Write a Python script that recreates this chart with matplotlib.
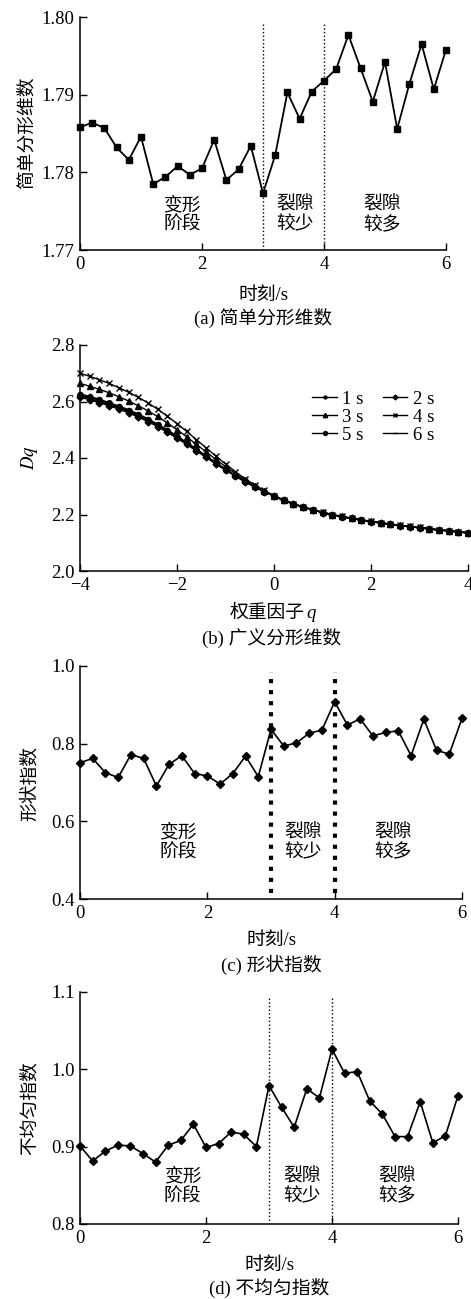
import numpy as np
import matplotlib
matplotlib.use('Agg')
import matplotlib.pyplot as plt

plt.rcParams['font.family'] = ['Liberation Serif', 'Noto Sans CJK SC']
plt.rcParams['mathtext.fontset'] = 'stix'
plt.rcParams['axes.unicode_minus'] = True

W, H = 471, 1299

# time axis (s) shared by panels a, c, d
t = np.linspace(0, 6, 31)

simple_fd = [1.7858, 1.7864, 1.7857, 1.7832, 1.7816, 1.7846, 1.7785, 1.7794,
             1.7808, 1.7797, 1.7805, 1.7842, 1.7790, 1.7804, 1.7834, 1.7773,
             1.7822, 1.7903, 1.7869, 1.7904, 1.7918, 1.7933, 1.7977, 1.7934,
             1.7891, 1.7942, 1.7856, 1.7914, 1.7965, 1.7907, 1.7958]

shape_idx = [0.751, 0.762, 0.725, 0.713, 0.772, 0.762, 0.691, 0.747, 0.769,
             0.723, 0.717, 0.696, 0.723, 0.768, 0.715, 0.837, 0.794, 0.802,
             0.827, 0.835, 0.908, 0.848, 0.864, 0.820, 0.829, 0.833, 0.769,
             0.863, 0.783, 0.773, 0.865]

uneven_idx = [0.901, 0.8815, 0.894, 0.902, 0.901, 0.891, 0.880, 0.902, 0.908,
              0.929, 0.899, 0.904, 0.919, 0.916, 0.900, 0.979, 0.951, 0.925,
              0.975, 0.963, 1.026, 0.995, 0.997, 0.959, 0.942, 0.913, 0.913,
              0.958, 0.905, 0.914, 0.966]

# weight factor q and generalized dimension Dq per moment
q = np.linspace(-4, 4, 41)
dq_pos = [2.250, 2.237, 2.226, 2.216, 2.207, 2.199, 2.192, 2.186, 2.180, 2.175,
          2.170, 2.165, 2.161, 2.157, 2.153, 2.149, 2.145, 2.142, 2.138, 2.135]
dq_1s = [2.627, 2.618, 2.608, 2.596, 2.584, 2.571, 2.556, 2.539, 2.520, 2.500,
         2.478, 2.455, 2.432, 2.408, 2.384, 2.361, 2.339, 2.318, 2.299, 2.282,
         2.265] + dq_pos
dq_2s = [2.615, 2.606, 2.596, 2.585, 2.573, 2.560, 2.545, 2.529, 2.511, 2.491,
         2.470, 2.448, 2.425, 2.402, 2.379, 2.357, 2.336, 2.316, 2.298, 2.281,
         2.265] + dq_pos
dq_3s = [2.664, 2.654, 2.643, 2.631, 2.617, 2.602, 2.585, 2.567, 2.547, 2.524,
         2.500, 2.475, 2.448, 2.422, 2.395, 2.370, 2.345, 2.322, 2.302, 2.283,
         2.266, 2.251, 2.238, 2.227, 2.217, 2.208, 2.200, 2.193, 2.187, 2.181,
         2.176, 2.171, 2.166, 2.162, 2.158, 2.154, 2.150, 2.146, 2.143, 2.139,
         2.136]
dq_4s = [2.700, 2.689, 2.677, 2.664, 2.649, 2.633, 2.615, 2.595, 2.573, 2.548,
         2.522, 2.494, 2.465, 2.436, 2.407, 2.379, 2.352, 2.327, 2.305, 2.285,
         2.267, 2.251, 2.238, 2.227, 2.217, 2.208, 2.200, 2.193, 2.187, 2.181,
         2.176, 2.171, 2.166, 2.162, 2.158, 2.154, 2.150, 2.146, 2.143, 2.139,
         2.136]
dq_5s = [2.623, 2.614, 2.604, 2.593, 2.581, 2.567, 2.552, 2.535, 2.517, 2.496,
         2.475, 2.452, 2.429, 2.406, 2.382, 2.359, 2.338, 2.317, 2.299, 2.281,
         2.265] + dq_pos
dq_6s = [2.619, 2.610, 2.600, 2.589, 2.577, 2.564, 2.548, 2.532, 2.514, 2.494,
         2.472, 2.450, 2.427, 2.404, 2.380, 2.358, 2.337, 2.316, 2.298, 2.281,
         2.265] + dq_pos

stages = ['变形\n阶段', '裂隙\n较少', '裂隙\n较多']

TICK_FS = 13.5
CJK_FS = 13.5


def px_axes(left, top, right, bottom):
    return [left / W, 1 - bottom / H, (right - left) / W, (bottom - top) / H]


def style_axes(ax):
    for side in ('top', 'right'):
        ax.spines[side].set_visible(False)
    for side in ('left', 'bottom'):
        ax.spines[side].set_linewidth(1.1)
    ax.tick_params(direction='in', length=5, width=1.0, labelsize=TICK_FS, pad=4)


def fig_text(x, y, s, **kw):
    fig.text(x / W, 1 - y / H, s, ha='center', va='center', **kw)


fig = plt.figure(figsize=(W / 100, H / 100), dpi=100)

# (a) simple fractal dimension
ax = fig.add_axes(px_axes(80, 17, 446, 250))
style_axes(ax)
ax.plot(t, simple_fd, color='black', lw=1.3, marker='s', ms=5, clip_on=False)
for x in (3, 4):
    ax.axvline(x, ymin=0, ymax=0.975, color='black', ls=':', lw=1.0)
ax.set_xlim(0, 6)
ax.set_ylim(1.77, 1.80)
ax.set_xticks([0, 2, 4, 6])
ax.set_yticks([1.77, 1.78, 1.79, 1.80])
ax.set_yticklabels(['1.77', '1.78', '1.79', '1.80'])
for x, s in zip((1.67, 3.52, 4.95), stages):
    ax.text(x, 1.7745, s, ha='center', va='center', fontsize=CJK_FS, linespacing=1.2)
fig_text(27, 133, '简单分形维数', rotation=90, fontsize=CJK_FS)
fig_text(263, 295, '时刻/s', fontsize=CJK_FS)
fig_text(263, 318, '(a) 简单分形维数', fontsize=CJK_FS)

# (b) generalized fractal dimension
ax = fig.add_axes(px_axes(80, 345, 468, 571))
style_axes(ax)
series = [('1 s', dq_1s, 'o', 3.0), ('2 s', dq_2s, 'D', 3.5),
          ('3 s', dq_3s, '^', 4.5), ('4 s', dq_4s, 'x', 4.5),
          ('5 s', dq_5s, 'o', 4.0), ('6 s', dq_6s, '_', 5.0)]
handles = {}
for name, vals, mk, ms in series:
    line, = ax.plot(q, vals, color='black', lw=1.0, marker=mk, ms=ms,
                    mew=1.0, clip_on=False)
    handles[name] = line
order = ['1 s', '3 s', '5 s', '2 s', '4 s', '6 s']
ax.legend([handles[k] for k in order], order, ncol=2, loc='upper left',
          bbox_to_anchor=(0.575, 0.84), frameon=False, fontsize=TICK_FS,
          handlelength=1.3, handletextpad=0.3, columnspacing=1.0,
          labelspacing=0.05, borderpad=0, markerscale=0.7)
ax.set_xlim(-4, 4)
ax.set_ylim(2.0, 2.8)
ax.set_xticks([-4, -2, 0, 2, 4])
ax.set_yticks([2.0, 2.2, 2.4, 2.6, 2.8])
ax.set_yticklabels(['2.0', '2.2', '2.4', '2.6', '2.8'])
fig_text(30, 458, '$Dq$', rotation=90, fontsize=TICK_FS)
fig.text(305 / W, 1 - 613 / H, '权重因子', ha='right', va='center', fontsize=CJK_FS)
fig.text(306 / W, 1 - 613 / H, 'q', ha='left', va='center', fontsize=TICK_FS,
         style='italic')
fig_text(272, 638, '(b) 广义分形维数', fontsize=CJK_FS)

# (c) shape index
ax = fig.add_axes(px_axes(80, 666, 462, 899))
style_axes(ax)
ax.plot(t, shape_idx, color='black', lw=1.2, marker='D', ms=4, clip_on=False)
for x in (3, 4):
    ax.axvline(x, ymin=0.025, ymax=0.975, color='black', ls=':', lw=3.0)
ax.set_xlim(0, 6)
ax.set_ylim(0.4, 1.0)
ax.set_xticks([0, 2, 4, 6])
ax.set_yticks([0.4, 0.6, 0.8, 1.0])
ax.set_yticklabels(['0.4', '0.6', '0.8', '1.0'])
for x, s in zip((1.54, 3.5, 4.92), stages):
    ax.text(x, 0.545, s, ha='center', va='center', fontsize=CJK_FS, linespacing=1.2)
fig_text(30, 783, '形状指数', rotation=90, fontsize=CJK_FS)
fig_text(271, 940, '时刻/s', fontsize=CJK_FS)
fig_text(271, 965, '(c) 形状指数', fontsize=CJK_FS)

# (d) unevenness index
ax = fig.add_axes(px_axes(80, 992, 458, 1224))
style_axes(ax)
ax.plot(t, uneven_idx, color='black', lw=1.2, marker='D', ms=4, clip_on=False)
for x in (3, 4):
    ax.axvline(x, ymin=0, ymax=0.975, color='black', ls=':', lw=1.0)
ax.set_xlim(0, 6)
ax.set_ylim(0.8, 1.1)
ax.set_xticks([0, 2, 4, 6])
ax.set_yticks([0.8, 0.9, 1.0, 1.1])
ax.set_yticklabels(['0.8', '0.9', '1.0', '1.1'])
for x, s in zip((1.63, 3.52, 5.03), stages):
    ax.text(x, 0.8485, s, ha='center', va='center', fontsize=CJK_FS, linespacing=1.2)
fig_text(30, 1108, '不均匀指数', rotation=90, fontsize=CJK_FS)
fig_text(269, 1265, '时刻/s', fontsize=CJK_FS)
fig_text(269, 1288, '(d) 不均匀指数', fontsize=CJK_FS)

fig.savefig('out.png', dpi=100)
